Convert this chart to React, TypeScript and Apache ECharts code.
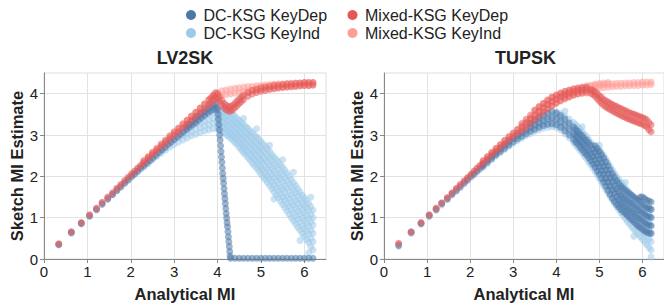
import React, { useEffect, useRef } from "react";
import * as echarts from "echarts";

const FONT = '"Liberation Sans", Arial, Helvetica, sans-serif';

const SERIES_NAMES = ["DC-KSG KeyDep", "DC-KSG KeyInd", "Mixed-KSG KeyDep", "Mixed-KSG KeyInd"];
const COLORS = ["#4c78a8", "#9ecae9", "#e45756", "#ff9d98"];
const PANEL_TITLES = ["LV2SK", "TUPSK"];
const X_TICKS = [0, 1, 2, 3, 4, 5, 6];
const Y_TICKS = [0, 1, 2, 3, 4];

// rows: [analytical MI, ...sketch estimates read at that MI]
const lv2skDcDep: number[][] = [
  [0.34, 0.35], [0.63, 0.64], [0.86, 0.86], [1.05, 1.04], [1.21, 1.19], [1.34, 1.33], [1.47, 1.45], [1.58, 1.56],
  [1.68, 1.66], [1.77, 1.75], [1.86, 1.84], [1.94, 1.92], [2.02, 2.0], [2.09, 2.06], [2.16, 2.13], [2.23, 2.2],
  [2.3, 2.26], [2.37, 2.32], [2.44, 2.38], [2.51, 2.45], [2.58, 2.51], [2.65, 2.58], [2.72, 2.64], [2.79, 2.7],
  [2.86, 2.77], [2.93, 2.83], [3.0, 2.89], [3.07, 2.95], [3.14, 3.01], [3.21, 3.07], [3.28, 3.13, 3.2],
  [3.35, 3.19, 3.26], [3.42, 3.25, 3.33], [3.49, 3.3, 3.4], [3.56, 3.36, 3.46], [3.63, 3.42, 3.52],
  [3.7, 3.48, 3.57], [3.77, 3.53, 3.63], [3.84, 3.58, 3.68], [3.91, 3.62, 3.72], [3.97, 3.66, 3.76],
  [4.0, 3.62], [4.01, 3.5], [4.02, 3.38], [4.03, 3.25], [4.04, 3.12], [4.05, 3.0], [4.06, 2.88], [4.07, 2.74],
  [4.08, 2.6], [4.09, 2.47], [4.1, 2.34], [4.11, 2.2], [4.12, 2.07], [4.13, 1.95], [4.14, 1.83], [4.15, 1.7],
  [4.16, 1.58], [4.17, 1.46], [4.18, 1.34], [4.19, 1.22], [4.2, 1.1], [4.21, 0.99], [4.22, 0.88], [4.23, 0.78],
  [4.24, 0.66], [4.25, 0.54], [4.26, 0.42], [4.27, 0.3], [4.28, 0.18], [4.29, 0.07],
  [4.3, 0.02], [4.4, 0.02], [4.5, 0.02], [4.6, 0.02], [4.7, 0.02], [4.8, 0.02], [4.9, 0.02], [5.0, 0.02],
  [5.1, 0.02], [5.2, 0.02], [5.3, 0.02], [5.4, 0.02], [5.5, 0.02], [5.6, 0.02], [5.7, 0.02], [5.8, 0.02],
  [5.9, 0.02], [6.0, 0.02], [6.1, 0.02], [6.2, 0.02],
];

const lv2skDcInd: number[][] = [
  [0.34, 0.34], [0.63, 0.62], [0.86, 0.85], [1.05, 1.03], [1.21, 1.2], [1.34, 1.32], [1.47, 1.45], [1.58, 1.55],
  [1.68, 1.65], [1.77, 1.74], [1.86, 1.83], [1.94, 1.9], [2.02, 1.98], [2.09, 2.05], [2.16, 2.11], [2.23, 2.18],
  [2.3, 2.22, 2.27], [2.4, 2.31, 2.37], [2.5, 2.4, 2.46], [2.6, 2.48, 2.55], [2.7, 2.56, 2.64], [2.8, 2.64, 2.73],
  [2.9, 2.71, 2.81], [3.0, 2.77, 2.88, 2.95], [3.1, 2.83, 2.94, 3.02], [3.2, 2.88, 2.99, 3.09],
  [3.3, 2.93, 3.04, 3.15], [3.4, 2.98, 3.09, 3.21], [3.5, 3.02, 3.14, 3.27, 3.36], [3.6, 3.06, 3.18, 3.3, 3.41],
  [3.7, 3.1, 3.22, 3.34, 3.46], [3.8, 3.13, 3.25, 3.37, 3.5], [3.9, 3.15, 3.28, 3.4, 3.53],
  [4.0, 3.15, 3.28, 3.41, 3.55],
  [4.1, 3.1, 3.21, 3.32, 3.43, 3.54, 3.62],
  [4.2, 3.0, 3.12, 3.24, 3.36, 3.48, 3.6],
  [4.3, 2.92, 3.04, 3.16, 3.29, 3.42, 3.56],
  [4.4, 2.82, 2.94, 3.06, 3.19, 3.32, 3.46],
  [4.5, 2.7, 2.83, 2.96, 3.09, 3.22, 3.36],
  [4.6, 2.57, 2.7, 2.84, 2.98, 3.12, 3.26],
  [4.7, 2.45, 2.59, 2.73, 2.87, 3.02, 3.16],
  [4.8, 2.32, 2.46, 2.61, 2.76, 2.91, 3.06],
  [4.9, 2.2, 2.34, 2.49, 2.64, 2.8, 2.95],
  [5.0, 2.06, 2.21, 2.37, 2.53, 2.69, 2.85],
  [5.1, 1.92, 2.08, 2.24, 2.4, 2.57, 2.73],
  [5.2, 1.78, 1.94, 2.1, 2.27, 2.44, 2.6],
  [5.3, 1.62, 1.79, 1.96, 2.13, 2.3, 2.47],
  [5.4, 1.48, 1.65, 1.82, 1.99, 2.17, 2.35],
  [5.5, 1.32, 1.5, 1.68, 1.86, 2.04, 2.22],
  [5.6, 1.16, 1.34, 1.52, 1.71, 1.89, 2.08],
  [5.7, 1.0, 1.19, 1.37, 1.56, 1.75, 1.93],
  [5.8, 0.85, 1.04, 1.23, 1.41, 1.6, 1.78],
  [5.9, 0.7, 0.89, 1.08, 1.26, 1.44, 1.62],
  [6.0, 0.55, 0.74, 0.93, 1.12, 1.3, 1.48],
  [6.1, 0.4, 0.6, 0.79, 0.98, 1.17, 1.35],
  [6.2, 0.22, 0.42, 0.62, 0.82, 1.0, 1.18],
  [4.05, 3.15, 3.27, 3.38, 3.49, 3.58],
  [4.15, 3.06, 3.18, 3.3, 3.42, 3.54],
  [4.25, 2.97, 3.1, 3.23, 3.36, 3.5],
  [4.35, 2.88, 3.0, 3.12, 3.25, 3.38, 3.5],
  [4.45, 2.77, 2.89, 3.02, 3.15, 3.28, 3.4],
  [4.55, 2.64, 2.77, 2.9, 3.04, 3.18, 3.3],
  [4.65, 2.52, 2.65, 2.79, 2.93, 3.07, 3.2],
  [4.75, 2.39, 2.53, 2.68, 2.82, 2.97, 3.1],
  [4.85, 2.26, 2.41, 2.56, 2.71, 2.86, 3.0],
  [4.95, 2.13, 2.28, 2.44, 2.6, 2.75, 2.9],
  [5.05, 1.99, 2.15, 2.31, 2.47, 2.63, 2.78],
  [5.15, 1.85, 2.01, 2.17, 2.34, 2.5, 2.66],
  [5.25, 1.7, 1.87, 2.03, 2.2, 2.37, 2.53],
  [5.35, 1.55, 1.72, 1.89, 2.06, 2.24, 2.41],
  [5.45, 1.4, 1.58, 1.75, 1.93, 2.1, 2.28],
  [5.55, 1.24, 1.42, 1.6, 1.78, 1.96, 2.15],
  [5.65, 1.08, 1.27, 1.45, 1.64, 1.82, 2.0],
  [5.75, 0.92, 1.11, 1.3, 1.49, 1.67, 1.85],
  [5.85, 0.77, 0.96, 1.15, 1.34, 1.52, 1.7],
  [5.95, 0.62, 0.81, 1.0, 1.19, 1.37, 1.55],
  [6.05, 0.47, 0.67, 0.86, 1.05, 1.24, 1.42],
  [6.15, 0.3, 0.5, 0.7, 0.9, 1.08, 1.27],
  [4.6, 3.4], [4.9, 3.15], [5.2, 2.75], [5.5, 2.4], [5.75, 2.1], [6.15, 1.5], [6.1, 0.15], [5.9, 0.45], [5.3, 1.45],
];

const lv2skMixDep: number[][] = [
  [0.34, 0.37], [0.63, 0.66], [0.86, 0.88], [1.05, 1.07], [1.21, 1.23], [1.34, 1.37], [1.47, 1.5], [1.58, 1.6],
  [1.68, 1.71], [1.77, 1.8], [1.86, 1.9], [1.94, 1.98], [2.02, 2.06], [2.09, 2.13], [2.16, 2.2], [2.23, 2.27],
  [2.3, 2.33, 2.38], [2.4, 2.43, 2.48], [2.5, 2.53, 2.58], [2.6, 2.62, 2.68], [2.7, 2.72, 2.78], [2.8, 2.81, 2.88],
  [2.9, 2.91, 2.98], [3.0, 3.0, 3.08], [3.1, 3.08, 3.17], [3.2, 3.17, 3.27], [3.3, 3.26, 3.36], [3.4, 3.35, 3.46],
  [3.5, 3.44, 3.55], [3.6, 3.53, 3.65], [3.7, 3.62, 3.75], [3.8, 3.72, 3.85], [3.85, 3.78, 3.9], [3.9, 3.84, 3.96],
  [3.95, 3.9, 4.02], [4.0, 3.88, 4.0],
  [4.05, 3.8, 3.92], [4.1, 3.72, 3.84], [4.15, 3.66, 3.77], [4.2, 3.61, 3.72], [4.25, 3.58, 3.69], [4.3, 3.58, 3.69],
  [4.35, 3.61, 3.72], [4.4, 3.66, 3.77], [4.45, 3.71, 3.82], [4.5, 3.76, 3.87], [4.55, 3.81, 3.92], [4.6, 3.86, 3.96],
  [4.7, 3.94, 4.03], [4.8, 3.99, 4.08], [4.9, 4.03, 4.11], [5.0, 4.06, 4.14], [5.1, 4.08, 4.16], [5.2, 4.1, 4.18],
  [5.3, 4.12, 4.2], [5.4, 4.14, 4.21], [5.5, 4.15, 4.22], [5.6, 4.16, 4.23], [5.7, 4.17, 4.24], [5.8, 4.18, 4.25],
  [5.9, 4.19, 4.26], [6.0, 4.2, 4.27], [6.1, 4.2, 4.27], [6.2, 4.21, 4.27],
];

const lv2skMixInd: number[][] = [
  [0.34, 0.36], [0.63, 0.65], [0.86, 0.87], [1.05, 1.06], [1.21, 1.22], [1.34, 1.36], [1.47, 1.48], [1.58, 1.59],
  [1.68, 1.7], [1.77, 1.79], [1.86, 1.88], [1.94, 1.96], [2.02, 2.04], [2.09, 2.11], [2.16, 2.18], [2.23, 2.25],
  [2.3, 2.3, 2.35], [2.4, 2.4, 2.45], [2.5, 2.5, 2.55], [2.6, 2.6, 2.65], [2.7, 2.69, 2.75], [2.8, 2.79, 2.85],
  [2.9, 2.88, 2.95], [3.0, 2.98, 3.05], [3.1, 3.08, 3.15], [3.2, 3.17, 3.25], [3.3, 3.27, 3.35], [3.4, 3.37, 3.45],
  [3.5, 3.47, 3.55], [3.6, 3.56, 3.65], [3.7, 3.66, 3.75], [3.8, 3.76, 3.85], [3.9, 3.86, 3.95], [4.0, 3.93, 4.03],
  [4.1, 3.96, 4.07], [4.2, 3.98, 4.09], [4.3, 3.99, 4.11], [4.4, 4.01, 4.13], [4.5, 4.03, 4.14], [4.6, 4.05, 4.16],
  [4.7, 4.07, 4.17], [4.8, 4.08, 4.18], [4.9, 4.1, 4.19], [5.0, 4.11, 4.2], [5.1, 4.12, 4.21], [5.2, 4.13, 4.22],
  [5.3, 4.14, 4.23], [5.4, 4.15, 4.24], [5.5, 4.16, 4.24], [5.6, 4.17, 4.25], [5.7, 4.18, 4.25], [5.8, 4.18, 4.26],
  [5.9, 4.19, 4.26], [6.0, 4.2, 4.27], [6.1, 4.2, 4.27], [6.2, 4.21, 4.27],
];

const tupskDcDep: number[][] = [
  [0.34, 0.33], [0.63, 0.66], [0.86, 0.86], [1.05, 1.05], [1.21, 1.2], [1.34, 1.34], [1.47, 1.45], [1.58, 1.57],
  [1.68, 1.66], [1.77, 1.75], [1.86, 1.84], [1.94, 1.92], [2.02, 2.0], [2.09, 2.06], [2.16, 2.13], [2.23, 2.2],
  [2.3, 2.25, 2.29], [2.4, 2.34, 2.39], [2.5, 2.43, 2.48], [2.6, 2.52, 2.57], [2.7, 2.6, 2.66], [2.8, 2.68, 2.75],
  [2.9, 2.76, 2.84], [3.0, 2.84, 2.92], [3.1, 2.91, 2.99], [3.2, 2.97, 3.06], [3.3, 3.03, 3.13],
  [3.4, 3.09, 3.19, 3.28], [3.5, 3.14, 3.25, 3.36], [3.6, 3.19, 3.3, 3.42], [3.7, 3.23, 3.35, 3.48],
  [3.8, 3.26, 3.39, 3.53], [3.9, 3.27, 3.41, 3.56], [4.0, 3.25, 3.39, 3.53], [4.1, 3.19, 3.33, 3.47],
  [4.2, 3.1, 3.24, 3.39], [4.3, 3.0, 3.14, 3.29], [4.4, 2.89, 3.03, 3.19], [4.5, 2.78, 2.93, 3.09],
  [4.6, 2.65, 2.81, 2.98], [4.7, 2.52, 2.69, 2.87], [4.8, 2.38, 2.56, 2.75], [4.9, 2.22, 2.4, 2.58, 2.74],
  [5.0, 2.05, 2.23, 2.41, 2.6], [5.1, 1.86, 2.05, 2.24, 2.44], [5.2, 1.66, 1.86, 2.06, 2.26],
  [5.3, 1.47, 1.67, 1.87, 2.06], [5.4, 1.32, 1.51, 1.7, 1.9], [5.5, 1.2, 1.38, 1.56, 1.76],
  [5.6, 1.1, 1.28, 1.46, 1.66], [5.7, 1.0, 1.19, 1.38, 1.58], [5.8, 0.9, 1.1, 1.3, 1.5],
  [5.9, 0.8, 1.0, 1.2, 1.42], [6.0, 0.72, 0.92, 1.12, 1.32, 1.5], [6.1, 0.65, 0.84, 1.04, 1.24, 1.42],
  [6.2, 0.62, 0.8, 1.0, 1.2, 1.38],
  [4.45, 2.83, 2.98, 3.14], [4.55, 2.71, 2.87, 3.03], [4.65, 2.58, 2.75, 2.92], [4.75, 2.45, 2.62, 2.81],
  [4.85, 2.3, 2.48, 2.66], [4.95, 2.13, 2.31, 2.5, 2.67], [5.05, 1.95, 2.14, 2.33, 2.52],
  [5.15, 1.76, 1.95, 2.15, 2.35], [5.25, 1.56, 1.76, 1.96, 2.16], [5.35, 1.39, 1.59, 1.78, 1.98],
  [5.45, 1.26, 1.44, 1.63, 1.83], [5.55, 1.15, 1.33, 1.51, 1.71], [5.65, 1.05, 1.23, 1.42, 1.62],
  [5.75, 0.95, 1.14, 1.34, 1.54], [5.85, 0.85, 1.05, 1.25, 1.46], [5.95, 0.76, 0.96, 1.16, 1.37, 1.5],
  [6.05, 0.68, 0.88, 1.08, 1.28, 1.46], [6.15, 0.63, 0.82, 1.02, 1.22, 1.4],
];

const tupskDcInd: number[][] = [
  [0.34, 0.31], [0.63, 0.62], [0.86, 0.84], [1.05, 1.02], [1.21, 1.18], [1.34, 1.31], [1.47, 1.44], [1.58, 1.55],
  [1.68, 1.64], [1.77, 1.73], [1.86, 1.82], [1.94, 1.9], [2.02, 1.98], [2.09, 2.04], [2.16, 2.11], [2.23, 2.17],
  [2.3, 2.22, 2.28], [2.4, 2.31, 2.37], [2.5, 2.4, 2.46], [2.6, 2.49, 2.55], [2.7, 2.57, 2.64], [2.8, 2.65, 2.73],
  [2.9, 2.73, 2.81], [3.0, 2.8, 2.89], [3.1, 2.87, 2.96], [3.2, 2.93, 3.03], [3.3, 2.99, 3.09],
  [3.4, 3.04, 3.15, 3.25], [3.5, 3.09, 3.2, 3.31], [3.6, 3.13, 3.25, 3.37], [3.7, 3.17, 3.29, 3.42],
  [3.8, 3.19, 3.32, 3.46], [3.9, 3.2, 3.34, 3.48], [4.0, 3.18, 3.32, 3.47, 3.56], [4.1, 3.12, 3.27, 3.42, 3.52],
  [4.2, 3.03, 3.18, 3.34, 3.46], [4.3, 2.93, 3.08, 3.24, 3.38], [4.4, 2.82, 2.98, 3.14, 3.3],
  [4.5, 2.7, 2.86, 3.03, 3.2], [4.6, 2.57, 2.74, 2.91, 3.08], [4.7, 2.43, 2.6, 2.78, 2.96],
  [4.8, 2.28, 2.46, 2.64, 2.82], [4.9, 2.12, 2.3, 2.49, 2.68], [5.0, 1.95, 2.14, 2.33, 2.52, 2.64],
  [5.1, 1.77, 1.96, 2.15, 2.35, 2.5], [5.2, 1.6, 1.79, 1.98, 2.17, 2.33], [5.3, 1.43, 1.62, 1.81, 2.0, 2.15],
  [5.4, 1.27, 1.46, 1.65, 1.84, 1.99], [5.5, 1.12, 1.31, 1.5, 1.69, 1.85], [5.6, 0.98, 1.17, 1.36, 1.55, 1.72],
  [5.7, 0.85, 1.04, 1.23, 1.42, 1.6], [5.8, 0.72, 0.91, 1.1, 1.29, 1.48], [5.9, 0.6, 0.79, 0.98, 1.17, 1.37],
  [6.0, 0.48, 0.67, 0.86, 1.05, 1.25], [6.1, 0.35, 0.55, 0.75, 0.95, 1.15], [6.2, 0.22, 0.42, 0.62, 0.82, 1.02, 1.2],
  [4.45, 2.76, 2.92, 3.08, 3.25], [4.55, 2.63, 2.8, 2.97, 3.14], [4.65, 2.5, 2.67, 2.85, 3.02],
  [4.75, 2.35, 2.53, 2.71, 2.89], [4.85, 2.2, 2.38, 2.56, 2.75], [4.95, 2.03, 2.22, 2.41, 2.6],
  [5.05, 1.86, 2.05, 2.24, 2.43, 2.57], [5.15, 1.68, 1.87, 2.06, 2.26, 2.42], [5.25, 1.51, 1.7, 1.89, 2.08, 2.24],
  [5.35, 1.35, 1.54, 1.73, 1.92, 2.07], [5.45, 1.2, 1.39, 1.58, 1.77, 1.92], [5.55, 1.05, 1.24, 1.43, 1.62, 1.78],
  [5.65, 0.91, 1.1, 1.29, 1.48, 1.66], [5.75, 0.78, 0.97, 1.16, 1.35, 1.54], [5.85, 0.66, 0.85, 1.04, 1.23, 1.42],
  [5.95, 0.54, 0.73, 0.92, 1.11, 1.31], [6.05, 0.42, 0.61, 0.8, 0.99, 1.2], [6.15, 0.28, 0.48, 0.68, 0.88, 1.08, 1.25],
  [6.2, 0.05], [5.0, 2.75], [4.6, 3.2], [4.2, 3.58], [5.6, 1.85], [5.8, 0.55],
];

const tupskMixDep: number[][] = [
  [0.34, 0.38], [0.63, 0.64], [0.86, 0.88], [1.05, 1.07], [1.21, 1.23], [1.34, 1.36], [1.47, 1.49], [1.58, 1.6],
  [1.68, 1.71], [1.77, 1.8], [1.86, 1.89], [1.94, 1.97], [2.02, 2.05], [2.09, 2.13], [2.16, 2.2], [2.23, 2.27],
  [2.3, 2.32, 2.38], [2.4, 2.42, 2.48], [2.5, 2.52, 2.58], [2.6, 2.61, 2.68], [2.7, 2.7, 2.77], [2.8, 2.79, 2.87],
  [2.9, 2.88, 2.96], [3.0, 2.96, 3.05], [3.1, 3.05, 3.14], [3.2, 3.1, 3.2, 3.28], [3.3, 3.19, 3.29, 3.38],
  [3.4, 3.28, 3.39, 3.48], [3.5, 3.37, 3.48, 3.6], [3.6, 3.46, 3.57, 3.68], [3.7, 3.55, 3.66, 3.76],
  [3.8, 3.63, 3.74, 3.84], [3.9, 3.7, 3.81, 3.91], [4.0, 3.77, 3.87, 3.96], [4.1, 3.83, 3.93, 4.01],
  [4.2, 3.88, 3.97, 4.05], [4.3, 3.92, 4.01, 4.08], [4.4, 3.96, 4.04, 4.11], [4.5, 3.99, 4.07, 4.13],
  [4.6, 4.01, 4.09, 4.15], [4.7, 4.02, 4.1, 4.16], [4.8, 4.01, 4.1], [4.85, 3.98, 4.08], [4.9, 3.94, 4.05],
  [4.95, 3.88, 4.0], [5.0, 3.82, 3.95], [5.05, 3.77, 3.91], [5.1, 3.72, 3.86], [5.2, 3.65, 3.8], [5.3, 3.59, 3.74],
  [5.4, 3.53, 3.69], [5.5, 3.48, 3.64], [5.6, 3.43, 3.59], [5.7, 3.38, 3.54], [5.8, 3.34, 3.5], [5.9, 3.3, 3.46],
  [6.0, 3.26, 3.42], [6.1, 3.2, 3.37], [6.15, 3.13, 3.3], [6.2, 3.08, 3.25],
  [5.15, 3.68, 3.83], [5.25, 3.62, 3.77], [5.35, 3.56, 3.71], [5.45, 3.5, 3.66], [5.55, 3.45, 3.61],
  [5.65, 3.4, 3.56], [5.75, 3.36, 3.52], [5.85, 3.32, 3.48], [5.95, 3.28, 3.44], [6.05, 3.23, 3.4],
];

const tupskMixInd: number[][] = [
  [0.34, 0.36], [0.63, 0.65], [0.86, 0.87], [1.05, 1.06], [1.21, 1.22], [1.34, 1.35], [1.47, 1.48], [1.58, 1.59],
  [1.68, 1.7], [1.77, 1.79], [1.86, 1.88], [1.94, 1.96], [2.02, 2.04], [2.09, 2.11], [2.16, 2.18], [2.23, 2.25],
  [2.3, 2.3, 2.36], [2.4, 2.4, 2.46], [2.5, 2.5, 2.56], [2.6, 2.59, 2.66], [2.7, 2.68, 2.76], [2.8, 2.77, 2.85],
  [2.9, 2.86, 2.94], [3.0, 2.95, 3.03], [3.1, 3.04, 3.12], [3.2, 3.12, 3.22], [3.3, 3.21, 3.31],
  [3.4, 3.3, 3.41], [3.5, 3.39, 3.5, 3.6], [3.6, 3.48, 3.59, 3.69], [3.7, 3.57, 3.68, 3.77],
  [3.8, 3.65, 3.76, 3.85], [3.9, 3.72, 3.83, 3.92], [4.0, 3.79, 3.89, 3.97], [4.1, 3.85, 3.94, 4.02],
  [4.2, 3.9, 3.99, 4.06], [4.3, 3.94, 4.03, 4.09], [4.4, 3.98, 4.06, 4.12], [4.5, 4.01, 4.09, 4.14],
  [4.6, 4.04, 4.11, 4.16], [4.7, 4.07, 4.14, 4.19], [4.8, 4.1, 4.17, 4.21], [4.9, 4.12, 4.2, 4.23],
  [5.0, 4.14, 4.21, 4.25], [5.1, 4.15, 4.22, 4.26], [5.2, 4.16, 4.23, 4.27], [5.3, 4.17, 4.24], [5.4, 4.18, 4.25],
  [5.5, 4.18, 4.25], [5.6, 4.19, 4.26], [5.7, 4.19, 4.26], [5.8, 4.2, 4.27], [5.9, 4.2, 4.27], [6.0, 4.21, 4.28],
  [6.1, 4.21, 4.28], [6.2, 4.22, 4.28],
];

const PANELS: number[][][][] = [
  [lv2skDcDep, lv2skDcInd, lv2skMixDep, lv2skMixInd],
  [tupskDcDep, tupskDcInd, tupskMixDep, tupskMixInd],
];

// drawing order: light blue, pink, dark blue, red
const DRAW_ORDER = [1, 3, 0, 2];

const toPoints = (rows: number[][]) =>
  rows.flatMap(([x, ...ys]) => ys.map((y) => [x, y]));

export default function App() {
  const ref = useRef<HTMLDivElement>(null);

  useEffect(() => {
    if (!ref.current) return;
    const chart = echarts.init(ref.current, undefined, { renderer: "svg" });

    const gridLefts = [44, 384];
    const grids = gridLefts.map((left, i) => ({
      left,
      top: 73,
      width: i === 0 ? 282 : 283,
      height: 188,
      show: true,
      borderColor: "#dddddd",
      borderWidth: 1,
      containLabel: false,
    }));

    const xAxes = gridLefts.map((_, i) => ({
      type: "value",
      gridIndex: i,
      min: 0,
      max: 6.5,
      interval: 1,
      name: "Analytical MI",
      nameLocation: "middle",
      nameGap: 26,
      nameTextStyle: { fontFamily: FONT, fontSize: 16.5, fontWeight: "bold", color: "#222" },
      axisLine: { show: true, lineStyle: { color: "#888", width: 1 } },
      axisTick: { show: true, length: 4, lineStyle: { color: "#888" }, customValues: X_TICKS },
      axisLabel: { fontFamily: FONT, fontSize: 15, color: "#222", margin: 5, customValues: X_TICKS },
      splitLine: { show: true, lineStyle: { color: "#e2e2e2", width: 1 } },
    }));

    const yAxes = gridLefts.map((_, i) => ({
      type: "value",
      gridIndex: i,
      min: 0,
      max: 4.5,
      interval: 1,
      name: "Sketch MI Estimate",
      nameLocation: "middle",
      nameGap: 19,
      nameTextStyle: { fontFamily: FONT, fontSize: 16.5, fontWeight: "bold", color: "#222" },
      axisLine: { show: true, lineStyle: { color: "#888", width: 1 } },
      axisTick: { show: true, length: 4, lineStyle: { color: "#888" }, customValues: Y_TICKS },
      axisLabel: { fontFamily: FONT, fontSize: 15, color: "#222", margin: 6, customValues: Y_TICKS },
      splitLine: { show: true, lineStyle: { color: "#e2e2e2", width: 1 } },
    }));

    const series: any[] = [];
    PANELS.forEach((panel, p) => {
      DRAW_ORDER.forEach((s) => {
        series.push({
          type: "scatter",
          name: SERIES_NAMES[s],
          xAxisIndex: p,
          yAxisIndex: p,
          data: toPoints(panel[s]),
          symbol: "circle",
          symbolSize: 7,
          itemStyle: { color: COLORS[s], opacity: 0.55 },
          emphasis: { disabled: true },
          silent: true,
        });
      });
    });

    const legendCommon = {
      orient: "vertical",
      top: 6,
      padding: 0,
      itemWidth: 15,
      itemHeight: 10,
      itemGap: 0,
      icon: "circle",
      itemStyle: { opacity: 1 },
      textStyle: { fontFamily: FONT, fontSize: 16, color: "#222", lineHeight: 18 },
      selectedMode: false,
    };

    chart.setOption({
      animation: false,
      color: COLORS,
      title: PANEL_TITLES.map((t, i) => ({
        text: t,
        left: i === 0 ? 185 : 525.5,
        top: 49,
        textAlign: "center",
        padding: 0,
        textStyle: { fontFamily: FONT, fontSize: 18, fontWeight: "bold", color: "#222" },
      })),
      legend: [
        { ...legendCommon, left: 186, data: [SERIES_NAMES[0], SERIES_NAMES[1]] },
        { ...legendCommon, left: 347.5, data: [SERIES_NAMES[2], SERIES_NAMES[3]] },
      ],
      grid: grids,
      xAxis: xAxes,
      yAxis: yAxes,
      series,
    });

    return () => chart.dispose();
  }, []);

  return (
    <div
      ref={ref}
      style={{ position: "fixed", left: 0, top: 0, width: 664, height: 307, background: "#fff" }}
    />
  );
}
